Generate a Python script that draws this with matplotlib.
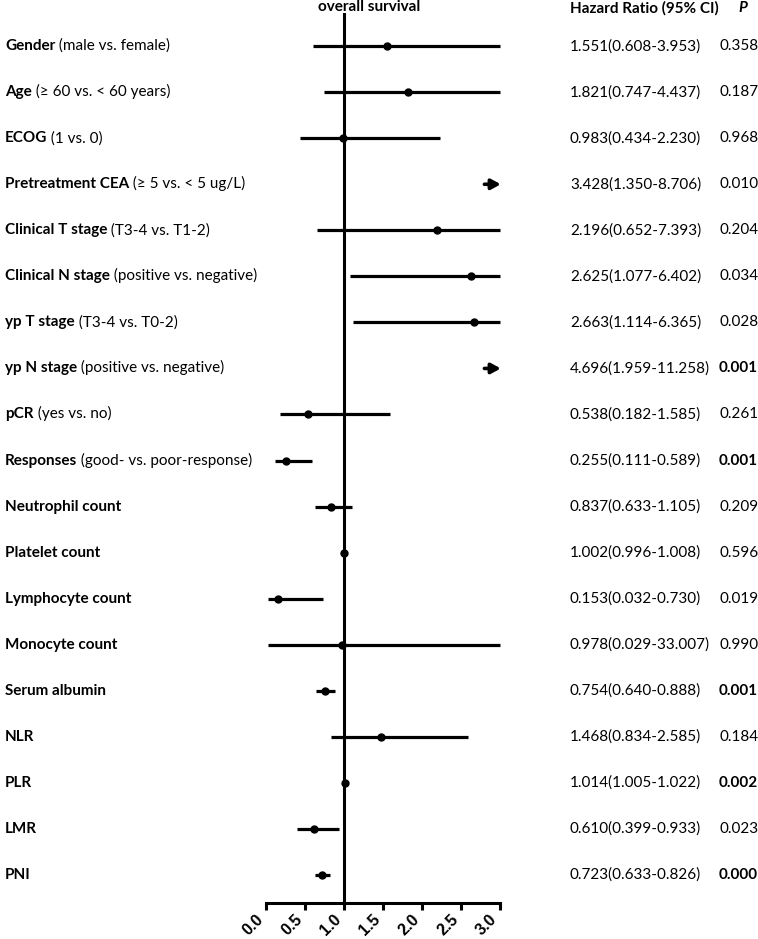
import numpy as np
import matplotlib.pyplot as plt
import matplotlib.transforms as transforms

plt.rcParams['font.family'] = ['Lato', 'DejaVu Sans']

# variables (bold part, plain part)
names = ['Gender', 'Age', 'ECOG', 'Pretreatment CEA', 'Clinical T stage',
         'Clinical N stage', 'yp T stage', 'yp N stage', 'pCR', 'Responses',
         'Neutrophil count', 'Platelet count', 'Lymphocyte count', 'Monocyte count',
         'Serum albumin', 'NLR', 'PLR', 'LMR', 'PNI']
details = ['(male vs. female)', '(\u2265 60 vs. < 60 years)', '(1 vs. 0)',
           '(\u2265 5 vs. < 5 ug/L)', '(T3-4 vs. T1-2)', '(positive vs. negative)',
           '(T3-4 vs. T0-2)', '(positive vs. negative)', '(yes vs. no)',
           '(good- vs. poor-response)', '', '', '', '', '', '', '', '', '']
hr = [1.551, 1.821, 0.983, 3.428, 2.196, 2.625, 2.663, 4.696, 0.538, 0.255,
      0.837, 1.002, 0.153, 0.978, 0.754, 1.468, 1.014, 0.610, 0.723]
lower = [0.608, 0.747, 0.434, 1.350, 0.652, 1.077, 1.114, 1.959, 0.182, 0.111,
         0.633, 0.996, 0.032, 0.029, 0.640, 0.834, 1.005, 0.399, 0.633]
upper = [3.953, 4.437, 2.230, 8.706, 7.393, 6.402, 6.365, 11.258, 1.585, 0.589,
         1.105, 1.008, 0.730, 33.007, 0.888, 2.585, 1.022, 0.933, 0.826]
pvals = ['0.358', '0.187', '0.968', '0.010', '0.204', '0.034', '0.028', '0.001',
         '0.261', '0.001', '0.209', '0.596', '0.019', '0.990', '0.001', '0.184',
         '0.002', '0.023', '0.000']
bold_p = ['0.001', '0.002', '0.000']
xmax = 3.0

fig = plt.figure(figsize=(7.58, 9.39), dpi=100)
W, H = 758, 939
ax = fig.add_axes([266 / W, 1 - 903 / H, (500 - 266) / W, (903 - 13) / H])

n = len(names)
ypos = -np.arange(n)
for i in range(n):
    y = ypos[i]
    if hr[i] > xmax:
        # estimate off the scale: arrow at right edge
        ax.annotate('', xy=(xmax + 0.01, y), xytext=(xmax - 0.2, y),
                    arrowprops=dict(arrowstyle='-|>,head_length=0.55,head_width=0.3',
                                    color='black', lw=2.6, shrinkA=0, shrinkB=0),
                    annotation_clip=False)
        continue
    ax.plot([lower[i], min(upper[i], xmax)], [y, y], color='black', lw=2.3,
            solid_capstyle='butt', clip_on=False)
    ax.plot(hr[i], y, 'o', color='black', ms=5, clip_on=False)

ax.axvline(1, color='black', lw=2.2)
ax.set_xlim(0, 3)
ax.set_ylim(-18.61, 0.72)
ax.set_yticks([])
for s in ['left', 'right', 'top']:
    ax.spines[s].set_visible(False)
ax.spines['bottom'].set_linewidth(2.2)
ax.set_xticks(np.arange(0, 3.01, 0.5))
ax.set_xticklabels(['%.1f' % v for v in np.arange(0, 3.01, 0.5)], rotation=45,
                   ha='right', fontweight='bold', fontsize=11.5, family='Liberation Sans')
ax.tick_params(axis='x', direction='out', length=5, width=2.2, pad=1.5)

trans = transforms.blended_transform_factory(fig.transFigure, ax.transData)
fs = 11
for i in range(n):
    t = ax.text(5 / W, ypos[i], names[i], transform=trans, fontweight='bold',
                fontsize=fs, va='center', ha='left')
    if details[i]:
        ax.annotate(' ' + details[i], xy=(1, 0), xycoords=t, fontsize=fs,
                    va='bottom', ha='left')
    ax.text(570 / W, ypos[i], '%.3f(%.3f-%.3f)' % (hr[i], lower[i], upper[i]),
            transform=trans, fontsize=fs, va='center', ha='left')
    ax.text(719 / W, ypos[i], pvals[i], transform=trans, fontsize=fs, va='center',
            ha='left', fontweight='bold' if pvals[i] in bold_p else 'normal')

fig.text(369 / W, 1 - 7 / H, 'overall survival', fontweight='bold', fontsize=fs,
         ha='center', va='center')
fig.text(570 / W, 1 - 8 / H, 'Hazard Ratio (95% CI)', fontweight='bold', fontsize=fs,
         ha='left', va='center')
fig.text(738 / W, 1 - 8 / H, 'P', fontweight='bold', fontstyle='italic', fontsize=fs,
         ha='left', va='center')

fig.savefig('out.png', dpi=100)
